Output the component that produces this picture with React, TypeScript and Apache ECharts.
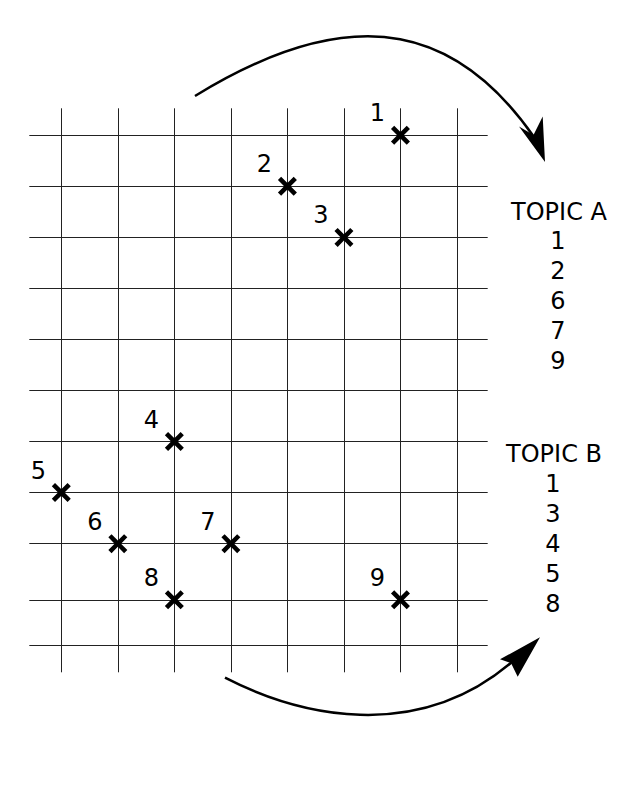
import React, { useEffect, useRef } from "react";
import * as echarts from "echarts";

// grid line positions (data units)
const xGridLines = [0, 1, 2, 3, 4, 5, 6, 7];
const yGridLines = [0, 0.9, 2, 3, 4, 5, 6, 7, 8, 9, 10];

// marked points
const pointNames = ["1", "2", "3", "4", "5", "6", "7", "8", "9"];
const pointX = [6, 4, 5, 2, 0, 1, 3, 2, 6];
const pointY = [10, 9, 8, 4, 3, 2, 2, 0.9, 0.9];

// topic lists
const topicATitle = "TOPIC A";
const topicAItems = ["1", "2", "6", "7", "9"];
const topicBTitle = "TOPIC B";
const topicBItems = ["1", "3", "4", "5", "8"];

const FONT = "DejaVu Sans";
const X_SYMBOL =
  "path://M3.4,0 L10,6.6 L16.6,0 L20,3.4 L13.4,10 L20,16.6 L16.6,20 L10,13.4 L3.4,20 L0,16.6 L6.6,10 L0,3.4 Z";

function textEl(text: string, x: number, y: number) {
  return {
    type: "text",
    x,
    y,
    silent: true,
    style: {
      text,
      fill: "#000",
      fontSize: 24,
      fontFamily: FONT,
      align: "center",
      verticalAlign: "middle",
      textAlign: "center",
      textVerticalAlign: "middle",
    },
  };
}

export default function App() {
  const ref = useRef<HTMLDivElement>(null);

  useEffect(() => {
    if (!ref.current) return;
    const chart = echarts.init(ref.current, null, { renderer: "svg" });

    const graphics: any[] = [];
    graphics.push(textEl(topicATitle, 559, 212));
    topicAItems.forEach((t, i) => graphics.push(textEl(t, 558, 241 + 30 * i)));
    graphics.push(textEl(topicBTitle, 554, 454));
    topicBItems.forEach((t, i) => graphics.push(textEl(t, 553, 484 + 30 * i)));

    // top arrow
    graphics.push({
      type: "bezierCurve",
      silent: true,
      shape: { x1: 195, y1: 96, cpx1: 362, cpy1: -6.7, cpx2: 462, cpy2: 33.7, x2: 534, y2: 137 },
      style: { stroke: "#000", lineWidth: 2.5, fill: "none" },
    });
    graphics.push({
      type: "polygon",
      silent: true,
      shape: { points: [[545, 162], [519, 126.5], [533.5, 135], [542.7, 116.5]] },
      style: { fill: "#000" },
    });
    // bottom arrow
    graphics.push({
      type: "bezierCurve",
      silent: true,
      shape: { x1: 225, y1: 677.7, cpx1: 298.6, cpy1: 715.6, cpx2: 416, cpy2: 744, x2: 512, y2: 662 },
      style: { stroke: "#000", lineWidth: 2.5, fill: "none" },
    });
    graphics.push({
      type: "polygon",
      silent: true,
      shape: { points: [[540, 637.3], [517.7, 676.7], [511, 663], [500, 659.3]] },
      style: { fill: "#000" },
    });

    chart.setOption({
      animation: false,
      grid: { left: 29.3, top: 108.3, width: 458.4, height: 564, containLabel: false },
      xAxis: {
        type: "value",
        min: -0.566,
        max: 7.543,
        axisLine: { show: false },
        axisTick: { show: false },
        axisLabel: { show: false },
        splitLine: { show: false },
      },
      yAxis: {
        type: "value",
        min: -0.521,
        max: 10.529,
        axisLine: { show: false },
        axisTick: { show: false },
        axisLabel: { show: false },
        splitLine: { show: false },
      },
      series: [
        {
          type: "scatter",
          z: 3,
          symbol: X_SYMBOL,
          symbolSize: 19,
          itemStyle: { color: "#000", opacity: 1 },
          emphasis: { disabled: true },
          label: {
            show: true,
            formatter: "{b}",
            position: "inside",
            offset: [-23, -22],
            fontSize: 24,
            fontFamily: FONT,
            color: "#000",
            opacity: 1,
          },
          data: pointX.map((x, i) => ({ value: [x, pointY[i]], name: pointNames[i] })),
          markLine: {
            z: 1,
            silent: true,
            symbol: ["none", "none"],
            label: { show: false },
            emphasis: { disabled: true },
            lineStyle: { color: "#222", width: 1, type: "solid", opacity: 1 },
            data: [
              ...xGridLines.map((v) => ({ xAxis: v })),
              ...yGridLines.map((v) => ({ yAxis: v })),
            ],
          },
        },
      ],
      graphic: { elements: graphics },
    });

    return () => chart.dispose();
  }, []);

  return (
    <div
      ref={ref}
      style={{ position: "fixed", left: 0, top: 0, width: 621, height: 791, background: "#fff" }}
    />
  );
}
